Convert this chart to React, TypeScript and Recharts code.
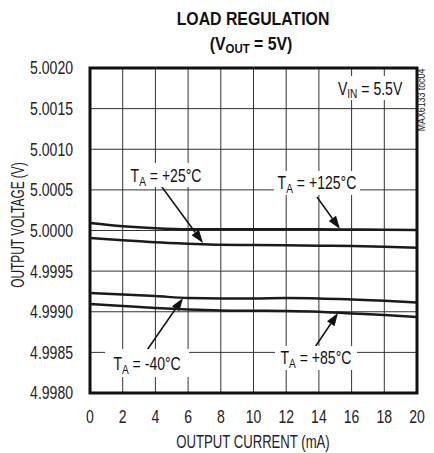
import React from 'react'
import { LineChart, Line, XAxis, YAxis, CartesianGrid, ReferenceArea, ReferenceDot, ReferenceLine } from 'recharts'

const FONT = "'Liberation Sans', Arial, sans-serif"

// output current (mA)
const current = [0, 2, 4, 6, 8, 10, 12, 14, 16, 18, 20]

// output voltage (V) per ambient temperature
const ta125 = [5.000092, 5.000052, 5.000027, 5.000015, 5.000015, 5.000015, 5.000015, 5.000014, 5.000012, 5.00001, 5.000006]
const ta25 = [4.999908, 4.99988, 4.999855, 4.999838, 4.999825, 4.999822, 4.999818, 4.999813, 4.999809, 4.999801, 4.999788]
const taM40 = [4.99923, 4.999213, 4.999193, 4.999169, 4.999164, 4.999164, 4.999169, 4.999164, 4.999151, 4.999135, 4.999114]
const ta85 = [4.999095, 4.99907, 4.999046, 4.999028, 4.999016, 4.999012, 4.999009, 4.999, 4.998979, 4.998959, 4.998935]

const yTicks = [4.998, 4.9985, 4.999, 4.9995, 5.0, 5.0005, 5.001, 5.0015, 5.002]

// temperature labels, placed in data units
const labels = [
  { x: 4.65, y: 5.000683, text: ' = +25°C', w: 80, h: 24 },
  { x: 13.88, y: 5.000585, text: ' = +125°C', w: 86, h: 24 },
  { x: 3.49, y: 4.998369, text: ' = -40°C', w: 84, h: 28 },
  { x: 13.82, y: 4.998431, text: ' = +85°C', w: 82, h: 24 },
]

// arrows from label to curve
const arrows = [
  [{ x: 4.4, y: 5.000535 }, { x: 6.91, y: 4.999846 }],
  [{ x: 13.88, y: 5.000412 }, { x: 15.29, y: 5.000018 }],
  [{ x: 3.49, y: 4.998529 }, { x: 5.69, y: 4.999169 }],
  [{ x: 13.64, y: 4.998529 }, { x: 15.17, y: 4.998985 }],
]

const data = current.map((c, i) => ({ current: c, t125: ta125[i], t25: ta25[i], tm40: taM40[i], t85: ta85[i] }))

const Arrow = (props: any) => {
  const { x1, y1, x2, y2 } = props
  const dx = x2 - x1
  const dy = y2 - y1
  const len = Math.sqrt(dx * dx + dy * dy)
  const ux = dx / len
  const uy = dy / len
  const hl = 13
  const hw = 4.5
  const bx = x2 - ux * hl
  const by = y2 - uy * hl
  return (
    <g>
      <line x1={x1} y1={y1} x2={bx} y2={by} stroke="#111" strokeWidth={1.5} />
      <polygon
        points={`${x2},${y2} ${bx - uy * hw},${by + ux * hw} ${bx + uy * hw},${by - ux * hw}`}
        fill="#111"
      />
    </g>
  )
}

const TempLabel = ({ cx, cy, text, w, h }: any) => (
  <g>
    <rect x={cx - w / 2} y={cy - h / 2} width={w} height={h} fill="#fff" />
    <g transform={`translate(${cx},${cy}) scale(0.78,1)`}>
      <text x={0} y={6.5} textAnchor="middle" fontFamily={FONT} fontSize={18} fill="#111">
        <tspan>T</tspan>
        <tspan fontSize={13} dy={4}>A</tspan>
        <tspan dy={-4}>{text}</tspan>
      </text>
    </g>
  </g>
)

const VinLabel = ({ cx, cy }: any) => (
  <g>
    <rect x={cx - 39} y={cy - 12} width={78} height={24} fill="#fff" />
    <g transform={`translate(${cx},${cy}) scale(0.78,1)`}>
      <text x={0} y={6.5} textAnchor="middle" fontFamily={FONT} fontSize={18} fill="#111">
        <tspan>V</tspan>
        <tspan fontSize={13} dy={4}>IN</tspan>
        <tspan dy={-4}> = 5.5V</tspan>
      </text>
    </g>
  </g>
)

const XTick = ({ x, y, payload }: any) => (
  <g transform={`translate(${x},${y}) scale(0.78,1)`}>
    <text x={0} y={0} dy="0.71em" textAnchor="middle" fontFamily={FONT} fontSize={18} fill="#222">
      {payload.value}
    </text>
  </g>
)

const YTick = ({ x, y, payload }: any) => (
  <g transform={`translate(${x},${y}) scale(0.78,1)`}>
    <text x={0} y={0} dy="0.355em" textAnchor="end" fontFamily={FONT} fontSize={18} fill="#222">
      {payload.value.toFixed(4)}
    </text>
  </g>
)

export default function App() {
  return (
    <div style={{ position: 'absolute', left: 0, top: 0, width: 434, height: 453, background: '#fff' }}>
      <LineChart width={434} height={453} data={data} margin={{ top: 68, right: 17, left: 30, bottom: 0 }}>
        <CartesianGrid stroke="#333" strokeWidth={1} />
        <XAxis
          dataKey="current"
          type="number"
          domain={[0, 20]}
          ticks={current}
          axisLine={false}
          tickLine={false}
          tickSize={0}
          tickMargin={17}
          height={60}
          tick={<XTick />}
        />
        <YAxis
          type="number"
          domain={[4.998, 5.002]}
          ticks={yTicks}
          axisLine={false}
          tickLine={false}
          tickSize={0}
          tickMargin={17}
          width={60}
          tick={<YTick />}
        />
        {labels.map((l, i) => (
          <ReferenceDot key={'l' + i} x={l.x} y={l.y} shape={(p: any) => <TempLabel {...p} text={l.text} w={l.w} h={l.h} />} />
        ))}
        <ReferenceDot x={17.13} y={5.001754} shape={(p: any) => <VinLabel {...p} />} />
        {arrows.map((s, i) => (
          <ReferenceLine key={'a' + i} segment={s} shape={(p: any) => <Arrow {...p} />} />
        ))}
        <Line type="monotone" dataKey="t125" stroke="#1a1a1a" strokeWidth={2.5} dot={false} isAnimationActive={false} />
        <Line type="monotone" dataKey="t25" stroke="#1a1a1a" strokeWidth={2.5} dot={false} isAnimationActive={false} />
        <Line type="monotone" dataKey="tm40" stroke="#1a1a1a" strokeWidth={2.5} dot={false} isAnimationActive={false} />
        <Line type="monotone" dataKey="t85" stroke="#1a1a1a" strokeWidth={2.5} dot={false} isAnimationActive={false} />
        <ReferenceArea x1={0} x2={20} y1={4.998} y2={5.002} fill="none" stroke="#111" strokeWidth={3} />
      </LineChart>
      <svg width={434} height={453} style={{ position: 'absolute', left: 0, top: 0, pointerEvents: 'none' }}>
        <g transform="translate(253,25) scale(0.88,1)">
          <text textAnchor="middle" fontFamily={FONT} fontWeight="bold" fontSize={18} fill="#111">LOAD REGULATION</text>
        </g>
        <g transform="translate(251,50) scale(0.88,1)">
          <text textAnchor="middle" fontFamily={FONT} fontWeight="bold" fontSize={18} fill="#111">
            <tspan>(V</tspan>
            <tspan fontSize={13} dy={3}>OUT</tspan>
            <tspan dy={-3}> = 5V)</tspan>
          </text>
        </g>
        <g transform="translate(23.5,225) rotate(-90) scale(0.66,1)">
          <text textAnchor="middle" fontFamily={FONT} fontSize={18} fill="#222">OUTPUT VOLTAGE (V)</text>
        </g>
        <g transform="translate(253,448) scale(0.73,1)">
          <text textAnchor="middle" fontFamily={FONT} fontSize={18} fill="#222">OUTPUT CURRENT (mA)</text>
        </g>
        <g transform="translate(425,100) rotate(-90) scale(0.8,1)">
          <text textAnchor="middle" fontFamily={FONT} fontSize={11} fill="#222">MAX6133 toc04</text>
        </g>
      </svg>
    </div>
  )
}
